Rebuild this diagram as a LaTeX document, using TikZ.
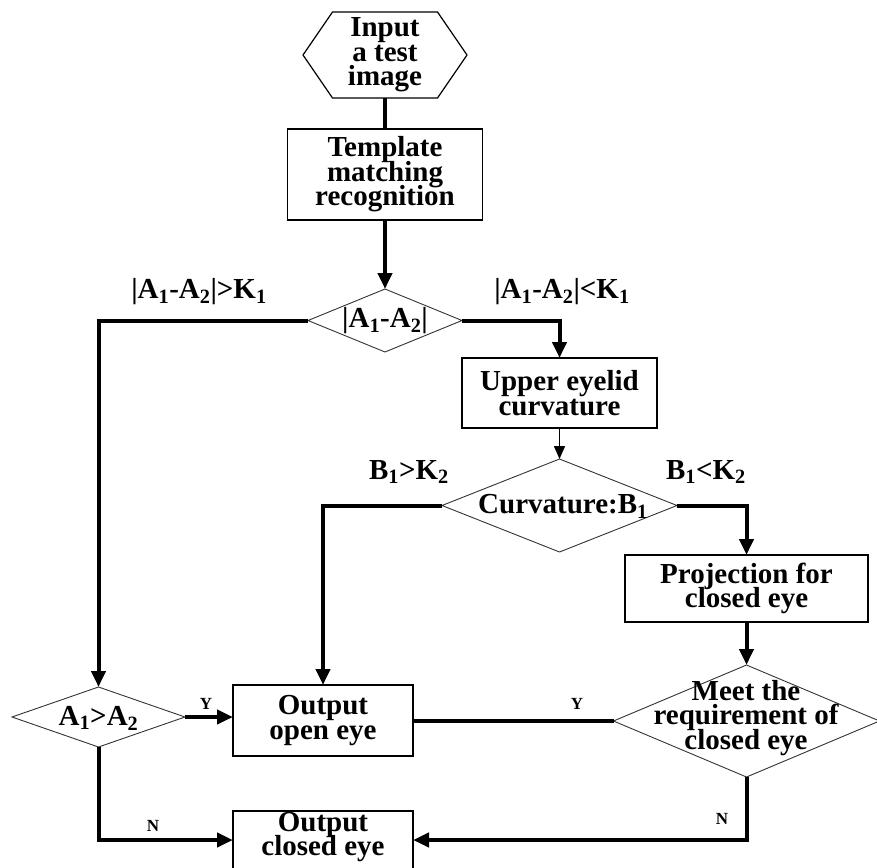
\documentclass[tikz,border=0pt]{standalone}
\usepackage{fontspec}
\setmainfont{Liberation Serif}
\usetikzlibrary{shapes.geometric,arrows.meta,calc}
% bold serif text with tight, fixed line spacing
\newcommand\flowfont{\fontsize{29}{24.5}\selectfont\bfseries\lineskiplimit=-100pt\relax}

\begin{document}
\begin{tikzpicture}[x=1pt,y=-1pt,
  every node/.style={font=\flowfont, align=center, inner sep=0pt, outer sep=0pt},
  procbox/.style={draw, line width=1.4pt, rectangle},
  decision/.style={draw, diamond, line width=0.9pt, draw=black!80},
  flowline/.style={line width=4pt},
  flowarrow/.style={flowline, -{Triangle[length=16pt,width=14pt]}},
  thinarrow/.style={line width=1.6pt, -{Triangle[length=13pt,width=11pt]}},
  yn/.style={font=\fontsize{17}{17}\selectfont\bfseries}
]
\useasboundingbox (0,0) rectangle (877,867);

% start: hexagonal input terminal
\node[minimum width=164pt, minimum height=86pt] (hex) at (385,55) {Input\\a test\\image};
\draw[line width=1.2pt]
  ($(hex.north west)+(29.5,0)$) -- ($(hex.north east)+(-29.5,0)$) -- (hex.east)
  -- ($(hex.south east)+(-29.5,0)$) -- ($(hex.south west)+(29.5,0)$) -- (hex.west) -- cycle;

% process boxes
\node[procbox, minimum width=195pt, minimum height=91pt] (tmr) at (385,174.5)
  {Template\\matching\\recognition};
\node[procbox, minimum width=195pt, minimum height=70pt] (uec) at (559.5,393)
  {Upper eyelid\\curvature};
\node[procbox, minimum width=243pt, minimum height=67pt] (proj) at (746.5,588.5)
  {Projection for\\closed eye};
\node[procbox, minimum width=180pt, minimum height=71pt] (oeo) at (323,720.5)
  {Output\\open eye};
\node[procbox, minimum width=180pt, minimum height=58pt] (oce) at (323,840) {};
\node (oceT) at (323,837) {Output\\closed eye};

% decisions
\node[decision, minimum width=154pt, minimum height=63pt] (cmp) at (385,320.5) {};
\node (cmpT) at (385,321) {|A\textsubscript{1}-A\textsubscript{2}|};

\node[decision, minimum width=235pt, minimum height=93pt] (curv) at (559.5,505.5) {};
\node (curvT) at (563,506) {Curvature:B\textsubscript{1}};

\node[decision, minimum width=266pt, minimum height=112pt] (meet) at (746.5,721) {};
\node (meetT) at (746,718) {Meet the\\requirement of\\closed eye};

\node[decision, minimum width=173pt, minimum height=60pt] (grt) at (98.5,717) {};
\node (grtT) at (98.5,718) {A\textsubscript{1}>A\textsubscript{2}};

% branch labels
\node (lblL) at (199,292) {|A\textsubscript{1}-A\textsubscript{2}|>K\textsubscript{1}};
\node (lblR) at (562,292) {|A\textsubscript{1}-A\textsubscript{2}|<K\textsubscript{1}};
\node (lblB1) at (409,472) {B\textsubscript{1}>K\textsubscript{2}};
\node (lblB2) at (706,472) {B\textsubscript{1}<K\textsubscript{2}};
\node[yn] (yL) at (206,704) {Y};
\node[yn] (yR) at (577,704) {Y};
\node[yn] (nL) at (153,826) {N};
\node[yn] (nR) at (722,819) {N};

% connectors
\draw[flowline] (hex.south) -- (tmr.north);
\draw[flowarrow] (tmr.south) -- (cmp.north);
\draw[flowarrow] (cmp.west) -| (grt.north);
\draw[flowarrow] (cmp.east) -| (uec.north);
\draw[thinarrow] (uec.south) -- (curv.north);
\draw[flowarrow] (curv.west) -| (oeo.north);
\draw[flowarrow] (curv.east) -| (proj.north);
\draw[flowarrow] (proj.south) -- (proj.south |- meet.north);
\draw[flowline] (meet.west) -- (meet.west -| oeo.east);
\draw[flowarrow] (meet.south) |- (oce.east);
\draw[flowarrow] (grt.east) -- (grt.east -| oeo.west);
\draw[flowarrow] (grt.south) |- (oce.west);
\end{tikzpicture}
\end{document}
